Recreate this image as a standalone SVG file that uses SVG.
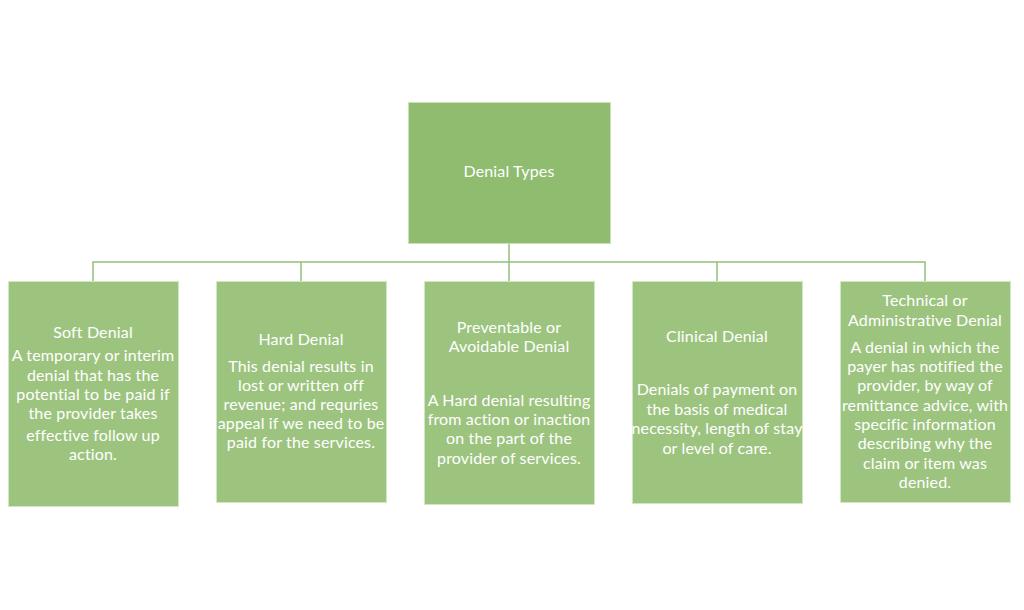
<svg xmlns="http://www.w3.org/2000/svg" width="1024" height="610" viewBox="0 0 1024 610">
<style>
.top{fill:#8fbc6f;stroke:#c9e0b8;stroke-width:1}
.box{fill:#9dc47f;stroke:#d3e6c4;stroke-width:1}
text{font-family:Lato,"Open Sans","Liberation Sans",sans-serif;font-size:16px;letter-spacing:0.15px;fill:#ffffff;text-anchor:middle}
.c{stroke:#95c07a;stroke-width:1.5;fill:none}
</style>
<rect width="1024" height="610" fill="#ffffff"/>
<g id="connectors">
<path class="c" d="M509 244V262M93 281V262H925V281M301 262V281M509 262V281M717 262V281"/>
</g>
<g id="root">
<rect class="top" x="408.5" y="102.5" width="202" height="141"/>
<text x="509" y="177">Denial Types</text>
</g>
<g id="soft">
<rect class="box" x="8.5" y="281.5" width="170" height="225"/>
<text x="93" y="338">Soft Denial</text>
<text x="93" y="361">A temporary or interim</text>
<text x="93" y="381">denial that has the</text>
<text x="93" y="400">potential to be paid if</text>
<text x="93" y="419">the provider takes</text>
<text x="93" y="441">effective follow up</text>
<text x="93" y="460">action.</text>
</g>
<g id="hard">
<rect class="box" x="216.5" y="281.5" width="170" height="221"/>
<text x="301" y="345">Hard Denial</text>
<text x="301" y="372">This denial results in</text>
<text x="301" y="391">lost or written off</text>
<text x="301" y="410">revenue; and requries</text>
<text x="301" y="429">appeal if we need to be</text>
<text x="301" y="448">paid for the services.</text>
</g>
<g id="preventable">
<rect class="box" x="424.5" y="281.5" width="170" height="223"/>
<text x="509" y="333">Preventable or</text>
<text x="509" y="352">Avoidable Denial</text>
<text x="509" y="406">A Hard denial resulting</text>
<text x="509" y="425">from action or inaction</text>
<text x="509" y="444">on the part of the</text>
<text x="509" y="464">provider of services.</text>
</g>
<g id="clinical">
<rect class="box" x="632.5" y="281.5" width="170" height="222"/>
<text x="717" y="342">Clinical Denial</text>
<text x="717" y="395">Denials of payment on</text>
<text x="717" y="415">the basis of medical</text>
<text x="717" y="434">necessity, length of stay</text>
<text x="717" y="454">or level of care.</text>
</g>
<g id="technical">
<rect class="box" x="840.5" y="281.5" width="170" height="221"/>
<text x="925" y="306">Technical or</text>
<text x="925" y="326">Administrative Denial</text>
<text x="925" y="353">A denial in which the</text>
<text x="925" y="372">payer has notified the</text>
<text x="925" y="391">provider, by way of</text>
<text x="925" y="411">remittance advice, with</text>
<text x="925" y="430">specific information</text>
<text x="925" y="449">describing why the</text>
<text x="925" y="469">claim or item was</text>
<text x="925" y="488">denied.</text>
</g>
</svg>
